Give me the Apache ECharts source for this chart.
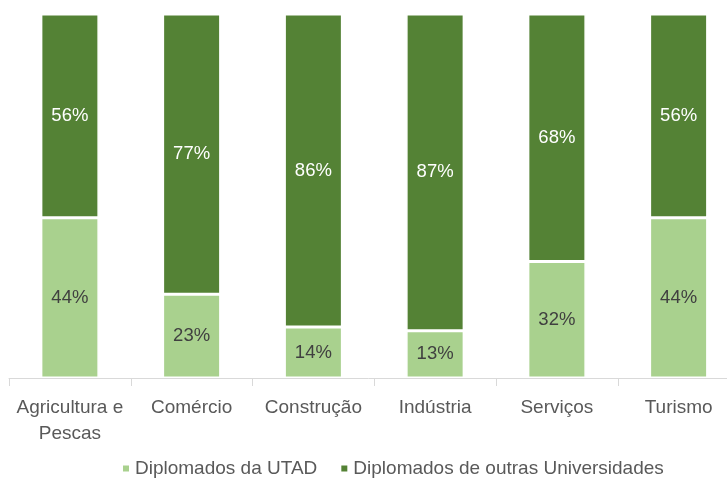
<!DOCTYPE html>
<html>
<head>
<meta charset="utf-8">
<script src="https://cdn.jsdelivr.net/npm/echarts@6/dist/echarts.min.js"></script>
<style>
  html, body { margin: 0; padding: 0; background: #fff; }
  #main { width: 727px; height: 492px; }
</style>
</head>
<body>
<div id="main"></div>
<script>
// categorias e percentagens
var categorias = ['Agricultura e\nPescas', 'Comércio', 'Construção', 'Indústria', 'Serviços', 'Turismo'];
var utad = [44, 23, 14, 13, 32, 44];
var outras = [56, 77, 86, 87, 68, 56];
var nomes = ['Diplomados da UTAD', 'Diplomados de outras Universidades'];

var fonte = '"Liberation Sans", Arial, sans-serif';
var myChart = echarts.init(document.getElementById('main'));

var option = {
    animation: false,
    grid: { left: 9, right: -12.5, top: 14, bottom: 114, outerBoundsMode: 'none', containLabel: false },
    legend: {
        data: nomes,
        left: 116,
        top: 454,
        itemWidth: 8,
        itemHeight: 8,
        itemGap: 22,
        icon: 'rect',
        textStyle: { fontFamily: fonte, fontSize: 19, color: '#595959' }
    },
    xAxis: {
        type: 'category',
        data: categorias,
        axisLine: { lineStyle: { color: '#d9d9d9', width: 1 } },
        axisTick: { show: true, length: 8, lineStyle: { color: '#d9d9d9' } },
        axisLabel: {
            interval: 0,
            margin: 17,
            fontFamily: fonte,
            fontSize: 19,
            lineHeight: 26,
            color: '#595959'
        }
    },
    yAxis: {
        type: 'value',
        min: 0,
        max: 100,
        show: false
    },
    series: [{
        name: nomes[0],
        type: 'bar',
        stack: 'total',
        barWidth: 58,
        data: utad,
        itemStyle: { color: '#a9d18e', borderColor: '#fff', borderWidth: 1.5 },
        label: {
            show: true,
            position: 'inside',
            formatter: '{c}%',
            fontFamily: fonte,
            fontSize: 18.5,
            color: '#404040'
        }
    }, {
        name: nomes[1],
        type: 'bar',
        stack: 'total',
        barWidth: 58,
        data: outras,
        itemStyle: { color: '#548235', borderColor: '#fff', borderWidth: 1.5 },
        label: {
            show: true,
            position: 'inside',
            formatter: '{c}%',
            fontFamily: fonte,
            fontSize: 18.5,
            color: '#fff'
        }
    }]
};

myChart.setOption(option);
</script>
</body>
</html>
